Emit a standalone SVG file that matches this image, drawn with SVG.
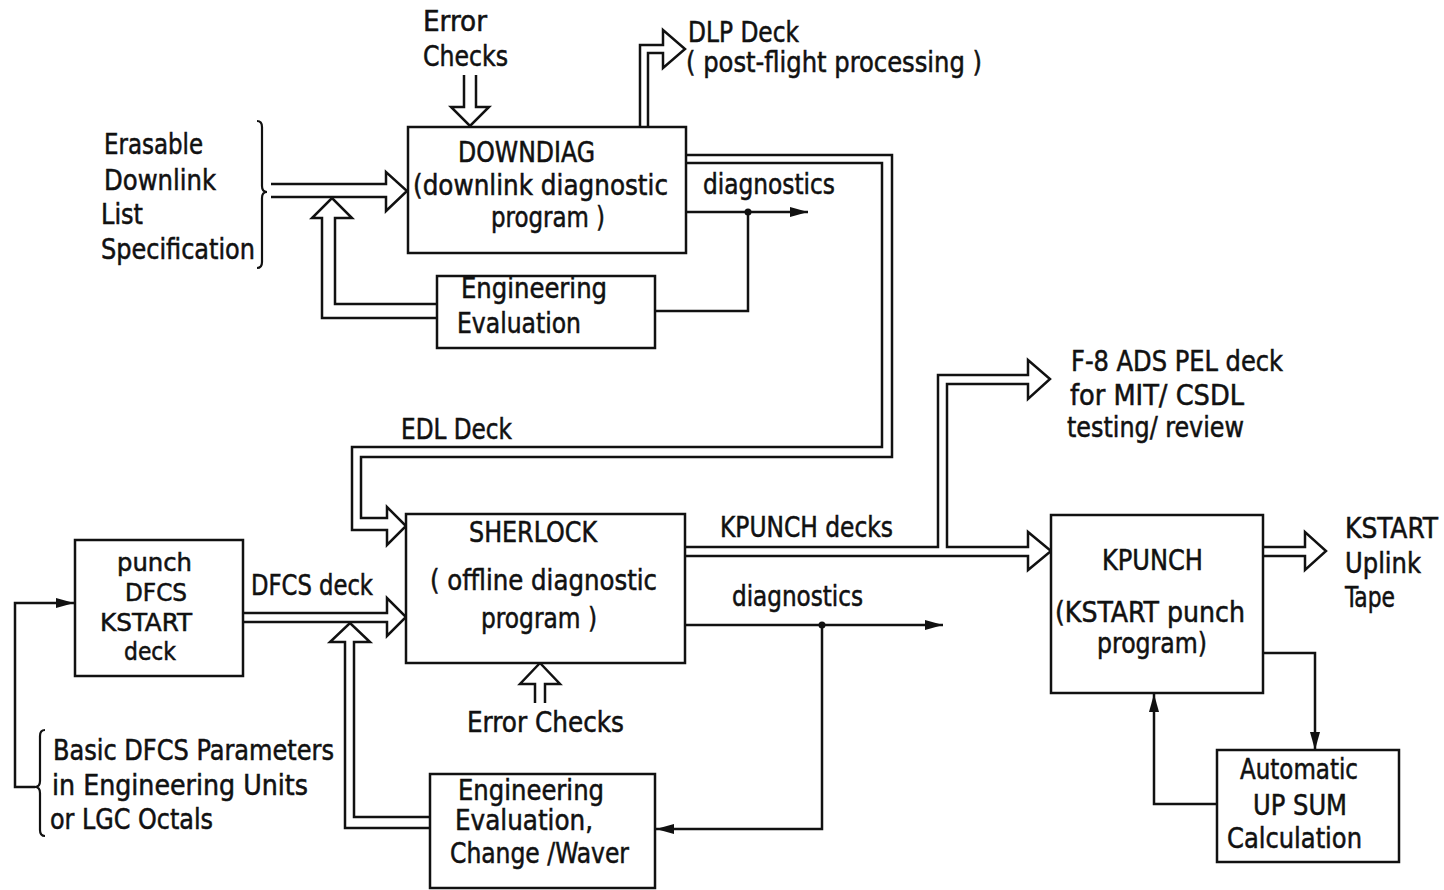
<svg xmlns="http://www.w3.org/2000/svg" width="1444" height="890" viewBox="0 0 1444 890">
<style>
.ln{fill:none;stroke:#111;stroke-width:2.5;stroke-linejoin:miter;stroke-linecap:butt}
.bx{fill:#fff;stroke:#111;stroke-width:2.5}
.br{fill:none;stroke:#111;stroke-width:2.2}
text{font-family:"Liberation Sans Narrow","DejaVu Sans Condensed","Liberation Sans",sans-serif;font-size:28px;fill:#111;stroke:#111;stroke-width:0.5}
.sm{font-size:25px}
</style>
<defs>
<marker id="ah" markerUnits="userSpaceOnUse" markerWidth="18" markerHeight="10" refX="18" refY="5" orient="auto"><path d="M0,0 L18,5 L0,10 z" fill="#111"/></marker>
</defs>
<rect width="1444" height="890" fill="#fff"/>

<g id="connectors">
  <path class="ln" d="M464,75 V107 H451 L470,126 L489,107 H476 V75"/>
  <path class="ln" d="M271,184 H386 V172 L407,191 L386,211 V197 H271"/>
  <path class="ln" d="M437,318 H322 V218 H312 L332,198 L352,218 H335 V304 H437"/>
  <path class="ln" d="M640,127 V45 H663 V30 L685,49 L663,68 V53 H648 V127"/>
  <path class="ln" d="M686,155 H892 V457 H361 V518 H387 V507 L406,526 L387,545 V530 H352 V447 H882 V163 H686"/>
  <path class="ln" d="M686,212 H808" marker-end="url(#ah)"/>
  <path class="ln" d="M748,212 V311 H655"/>
  <circle cx="748" cy="212" r="3.5" fill="#111"/>
  <path class="ln" d="M243,613 H387 V598 L406,617 L387,636 V622 H243"/>
  <path class="ln" d="M430,828 H345 V642 H330 L350,623 L370,642 H354 V817 H430"/>
  <path class="ln" d="M535,703 V684 H520 L540,663 L560,684 H545 V703"/>
  <path class="ln" d="M685,547 H938 V375 H1028 V360 L1050,379 L1028,399 V384 H947 V547 H1028 V532 L1051,551 L1028,570 V556 H685"/>
  <path class="ln" d="M685,625 H943" marker-end="url(#ah)"/>
  <path class="ln" d="M822,625 V829 H656" marker-end="url(#ah)"/>
  <circle cx="822" cy="625" r="3.5" fill="#111"/>
  <path class="ln" d="M1263,547 H1305 V532 L1326,551 L1305,570 V556 H1263"/>
  <path class="ln" d="M1263,653 H1315 V750" marker-end="url(#ah)"/>
  <path class="ln" d="M1217,804 H1154 V694" marker-end="url(#ah)"/>
  <path class="ln" d="M35,787 H15 V603 H74" marker-end="url(#ah)"/>
</g>

<g id="erasable-spec">
  <path class="br" d="M257,121 Q262,121 262,127 V186 Q262,192 267,192 Q262,192 262,198 V262 Q262,268 257,268"/>
  <text x="104" y="154" textLength="99" lengthAdjust="spacingAndGlyphs">Erasable</text>
  <text x="104" y="190" textLength="112" lengthAdjust="spacingAndGlyphs">Downlink</text>
  <text x="101" y="224" textLength="42" lengthAdjust="spacingAndGlyphs">List</text>
  <text x="101" y="259" textLength="154" lengthAdjust="spacingAndGlyphs">Specification</text>
</g>

<g id="error-checks-top">
  <text x="423" y="31" textLength="64" lengthAdjust="spacingAndGlyphs">Error</text>
  <text x="423" y="66" textLength="85" lengthAdjust="spacingAndGlyphs">Checks</text>
</g>

<g id="dlp-deck">
  <text x="688" y="42" textLength="111" lengthAdjust="spacingAndGlyphs">DLP Deck</text>
  <text x="686" y="72" textLength="296" lengthAdjust="spacingAndGlyphs">( post-flight processing )</text>
</g>

<g id="downdiag">
  <rect class="bx" x="408" y="127" width="278" height="126"/>
  <text x="458" y="162" textLength="137" lengthAdjust="spacingAndGlyphs">DOWNDIAG</text>
  <text x="413" y="195" textLength="255" lengthAdjust="spacingAndGlyphs">(downlink diagnostic</text>
  <text x="491" y="227" textLength="114" lengthAdjust="spacingAndGlyphs">program )</text>
</g>

<g id="diag-label-top">
  <text x="703" y="194" textLength="132" lengthAdjust="spacingAndGlyphs">diagnostics</text>
</g>

<g id="eng-eval-top">
  <rect class="bx" x="437" y="276" width="218" height="72"/>
  <text x="461" y="298" textLength="146" lengthAdjust="spacingAndGlyphs">Engineering</text>
  <text x="457" y="333" textLength="124" lengthAdjust="spacingAndGlyphs">Evaluation</text>
</g>

<g id="edl-label">
  <text x="401" y="439" textLength="111" lengthAdjust="spacingAndGlyphs">EDL Deck</text>
</g>

<g id="f8-deck">
  <text x="1071" y="371" textLength="212" lengthAdjust="spacingAndGlyphs">F-8 ADS PEL deck</text>
  <text x="1070" y="405" textLength="174" lengthAdjust="spacingAndGlyphs">for MIT/ CSDL</text>
  <text x="1067" y="437" textLength="177" lengthAdjust="spacingAndGlyphs">testing/ review</text>
</g>

<g id="sherlock">
  <rect class="bx" x="406" y="514" width="279" height="149"/>
  <text x="469" y="542" textLength="128" lengthAdjust="spacingAndGlyphs">SHERLOCK</text>
  <text x="430" y="590" textLength="227" lengthAdjust="spacingAndGlyphs">( offline diagnostic</text>
  <text x="481" y="628" textLength="116" lengthAdjust="spacingAndGlyphs">program )</text>
</g>

<g id="kpunch-decks-label">
  <text x="720" y="537" textLength="173" lengthAdjust="spacingAndGlyphs">KPUNCH decks</text>
</g>
<g id="diag-label-mid">
  <text x="732" y="606" textLength="131" lengthAdjust="spacingAndGlyphs">diagnostics</text>
</g>

<g id="punch-deck">
  <rect class="bx" x="75" y="540" width="168" height="136"/>
  <text class="sm" x="117" y="571" textLength="75" lengthAdjust="spacingAndGlyphs">punch</text>
  <text class="sm" x="125" y="601" textLength="62" lengthAdjust="spacingAndGlyphs">DFCS</text>
  <text class="sm" x="100" y="631" textLength="92" lengthAdjust="spacingAndGlyphs">KSTART</text>
  <text class="sm" x="124" y="660" textLength="52" lengthAdjust="spacingAndGlyphs">deck</text>
</g>

<g id="dfcs-deck-label">
  <text x="251" y="595" textLength="122" lengthAdjust="spacingAndGlyphs">DFCS deck</text>
</g>

<g id="error-checks-bottom">
  <text x="467" y="732" textLength="157" lengthAdjust="spacingAndGlyphs">Error Checks</text>
</g>

<g id="basic-params">
  <path class="br" d="M45,730 Q40,730 40,736 V781 Q40,787 35,787 Q40,787 40,793 V830 Q40,836 45,836"/>
  <text x="53" y="760" textLength="281" lengthAdjust="spacingAndGlyphs">Basic DFCS Parameters</text>
  <text x="52" y="795" textLength="256" lengthAdjust="spacingAndGlyphs">in Engineering Units</text>
  <text x="50" y="829" textLength="163" lengthAdjust="spacingAndGlyphs">or LGC Octals</text>
</g>

<g id="eng-eval-bottom">
  <rect class="bx" x="430" y="774" width="225" height="114"/>
  <text x="458" y="800" textLength="146" lengthAdjust="spacingAndGlyphs">Engineering</text>
  <text x="455" y="830" textLength="138" lengthAdjust="spacingAndGlyphs">Evaluation,</text>
  <text x="450" y="863" textLength="179" lengthAdjust="spacingAndGlyphs">Change /Waver</text>
</g>

<g id="kpunch">
  <rect class="bx" x="1051" y="515" width="212" height="178"/>
  <text x="1102" y="570" textLength="101" lengthAdjust="spacingAndGlyphs">KPUNCH</text>
  <text x="1055" y="622" textLength="190" lengthAdjust="spacingAndGlyphs">(KSTART punch</text>
  <text x="1097" y="653" textLength="110" lengthAdjust="spacingAndGlyphs">program)</text>
</g>

<g id="kstart-tape">
  <text x="1345" y="538" textLength="93" lengthAdjust="spacingAndGlyphs">KSTART</text>
  <text x="1345" y="573" textLength="76" lengthAdjust="spacingAndGlyphs">Uplink</text>
  <text x="1345" y="607" textLength="50" lengthAdjust="spacingAndGlyphs">Tape</text>
</g>

<g id="upsum">
  <rect class="bx" x="1217" y="750" width="182" height="112"/>
  <text x="1240" y="779" textLength="118" lengthAdjust="spacingAndGlyphs">Automatic</text>
  <text x="1253" y="815" textLength="94" lengthAdjust="spacingAndGlyphs">UP SUM</text>
  <text x="1227" y="848" textLength="135" lengthAdjust="spacingAndGlyphs">Calculation</text>
</g>
</svg>
